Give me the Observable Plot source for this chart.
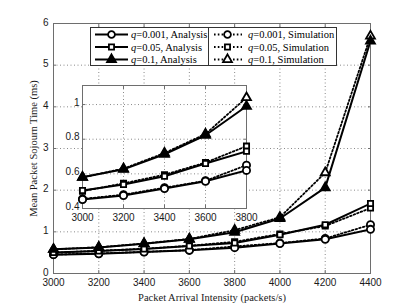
<!DOCTYPE html>
<html><head><meta charset="utf-8">
<script src="https://cdn.jsdelivr.net/npm/d3@7"></script>
<script src="https://cdn.jsdelivr.net/npm/@observablehq/plot@0.6"></script>
<style>
html,body{margin:0;padding:0;background:#fff;}
#wrap{position:relative;width:409px;height:307px;overflow:hidden;background:#fff;}
#wrap svg{position:absolute;overflow:visible;}
g[aria-label="x-axis label"] text, g[aria-label="y-axis label"] text{font-family:"Liberation Serif",serif;font-size:10.5px;}
</style></head><body><div id="wrap"></div>
<script>
// ---- data ----
const intensity = [3000, 3200, 3400, 3600, 3800, 4000, 4200, 4400];
const analysisQ001 = [0.452, 0.475, 0.515, 0.557, 0.62, 0.72, 0.82, 1.06];
const simQ001      = [0.455, 0.48, 0.52, 0.56, 0.65, 0.73, 0.84, 1.17];
const analysisQ05  = [0.504, 0.539, 0.586, 0.66, 0.73, 0.93, 1.17, 1.68];
const simQ05       = [0.50, 0.545, 0.595, 0.665, 0.76, 0.95, 1.14, 1.57];
const analysisQ1   = [0.58, 0.626, 0.713, 0.823, 0.99, 1.32, 2.06, 5.58];
const simQ1        = [0.58, 0.63, 0.72, 0.83, 1.04, 1.35, 2.42, 5.70];
const xTicks = [3000, 3200, 3400, 3600, 3800, 4000, 4200, 4400];
const yTicks = [0, 1, 2, 3, 4, 5, 6];
const insetXTicks = [3000, 3200, 3400, 3600, 3800];
const insetYTicks = [0.4, 0.6, 0.8, 1];
const seriesNames = ["q=0.001", "q=0.05", "q=0.1"];
const symbols = ["circle", "square", "triangle"];

// ---- build tidy table ----
const analysisSets = [analysisQ001, analysisQ05, analysisQ1];
const simSets = [simQ001, simQ05, simQ1];
const analysis = [], simulation = [];
seriesNames.forEach((name, i) => {
  intensity.forEach((x, j) => {
    analysis.push({x, y: analysisSets[i][j], series: name, symbol: symbols[i]});
    simulation.push({x, y: simSets[i][j], series: name, symbol: symbols[i]});
  });
});

const BLACK = "#000";
const GRID = "#8a8a8a";
const FRAME = "#6e6e6e";

function seriesMarks(filterX, rDot) {
  const A = analysis.filter(d => filterX(d.x));
  const S = simulation.filter(d => filterX(d.x));
  const marks = [];
  marks.push(Plot.line(S, {x: "x", y: "y", z: "series", stroke: BLACK, strokeWidth: 1.8, strokeDasharray: "1.6,2.2", clip: true}));
  marks.push(Plot.line(A, {x: "x", y: "y", z: "series", stroke: BLACK, strokeWidth: 2, clip: true}));
  symbols.forEach((sym) => {
    const r = sym === "triangle" ? rDot * 0.92 : (sym === "square" ? rDot * 0.82 : rDot);
    marks.push(Plot.dot(S.filter(d => d.symbol === sym), {x: "x", y: "y", symbol: sym, r, fill: "white", stroke: BLACK, strokeWidth: 1.8}));
  });
  symbols.forEach((sym) => {
    const r = sym === "triangle" ? rDot * 0.92 : (sym === "square" ? rDot * 0.82 : rDot);
    marks.push(Plot.dot(A.filter(d => d.symbol === sym), {x: "x", y: "y", symbol: sym, r, fill: sym === "triangle" ? BLACK : "white", stroke: BLACK, strokeWidth: 1.8}));
  });
  return marks;
}

function innerTicks(xt, yt) {
  const o = {tickSize: -3, tickFormat: () => "", label: null, stroke: FRAME};
  return [
    Plot.axisX(xt, {...o, anchor: "bottom"}),
    Plot.axisX(xt, {...o, anchor: "top"}),
    Plot.axisY(yt, {...o, anchor: "left"}),
    Plot.axisY(yt, {...o, anchor: "right"})
  ];
}

const wrap = document.getElementById("wrap");

// ---- main chart ----
const main = Plot.plot({
  width: 409, height: 307,
  marginLeft: 53, marginRight: 39, marginTop: 23, marginBottom: 34,
  style: {fontFamily: "Liberation Sans, Arial, sans-serif", fontSize: "10px", color: "#1a1a1a", background: "transparent"},
  x: {domain: [3000, 4400]},
  y: {domain: [0, 6]},
  marks: [
    Plot.gridX(xTicks, {stroke: GRID, strokeOpacity: 1, strokeDasharray: "1,2.5"}),
    Plot.gridY(yTicks, {stroke: GRID, strokeOpacity: 1, strokeDasharray: "1,2.5"}),
    Plot.frame({stroke: FRAME, strokeWidth: 1}),
    ...innerTicks(xTicks, yTicks),
    Plot.axisX(xTicks, {tickSize: 0, tickPadding: 5, tickFormat: d => String(d), label: "Packet Arrival Intensity (packets/s)", labelAnchor: "center", labelOffset: 27, labelArrow: "none"}),
    Plot.axisY(yTicks, {tickSize: 0, tickPadding: 5, tickFormat: d => String(d), label: "Mean Packet Sojourn Time (ms)", labelAnchor: "center", labelOffset: 24, labelArrow: "none", dy: -1}),
    ...seriesMarks(() => true, 3.6)
  ]
});
main.style.left = "0px"; main.style.top = "0px";
wrap.appendChild(main);

// ---- inset ----
const iL = 22, iT = 5, iR = 14, iB = 16;
const inset = Plot.plot({
  width: iL + 164 + iR, height: iT + 123 + iB,
  marginLeft: iL, marginRight: iR, marginTop: iT, marginBottom: iB,
  style: {fontFamily: "Liberation Sans, Arial, sans-serif", fontSize: "10px", color: "#1a1a1a", background: "transparent"},
  x: {domain: [3000, 3800]},
  y: {domain: [0.4, 1.11]},
  marks: [
    Plot.frame({fill: "white", stroke: "none"}),
    Plot.gridX(insetXTicks, {stroke: GRID, strokeOpacity: 1, strokeDasharray: "1,2.5"}),
    Plot.gridY(insetYTicks, {stroke: GRID, strokeOpacity: 1, strokeDasharray: "1,2.5"}),
    Plot.frame({stroke: FRAME, strokeWidth: 1}),
    ...innerTicks(insetXTicks, insetYTicks),
    Plot.axisX(insetXTicks, {tickSize: 0, tickPadding: 5, tickFormat: d => String(d), label: null}),
    Plot.axisY(insetYTicks, {tickSize: 0, tickPadding: 3, tickFormat: d => String(d), label: null, dy: -2}),
    ...seriesMarks(x => x <= 3800, 3.6)
  ]
});
inset.style.left = (82 - iL) + "px"; inset.style.top = (85 - iT) + "px";
wrap.appendChild(inset);

// ---- legend ----
const legW = 247, legH = 39;
const leg = d3.create("svg").attr("width", legW).attr("height", legH)
  .style("left", "90px").style("top", "27px")
  .attr("font-family", "Liberation Serif, Times New Roman, serif").attr("font-size", "10.5px");
leg.append("rect").attr("x", 0.5).attr("y", 0.5).attr("width", legW - 1).attr("height", legH - 1).attr("fill", "white").attr("stroke", "#333");
leg.append("line").attr("x1", 118.5).attr("x2", 118.5).attr("y1", 0).attr("y2", legH).attr("stroke", "#333");
const symGen = d3.symbol();
const symMap = {circle: d3.symbolCircle, square: d3.symbolSquare, triangle: d3.symbolTriangle};
seriesNames.forEach((name, i) => {
  const cy = 7.5 + i * 12.5;
  const sym = symbols[i];
  const r = sym === "triangle" ? 3.3 : (sym === "square" ? 2.9 : 3.4);
  const size = Math.PI * r * r;
  leg.append("line").attr("x1", 5).attr("x2", 38).attr("y1", cy).attr("y2", cy).attr("stroke", BLACK).attr("stroke-width", 2);
  leg.append("path").attr("d", symGen.type(symMap[sym]).size(size)()).attr("transform", `translate(21.5,${cy})`)
    .attr("fill", sym === "triangle" ? BLACK : "white").attr("stroke", BLACK).attr("stroke-width", 1.8);
  const t1 = leg.append("text").attr("x", 41).attr("y", cy).attr("dy", "0.35em");
  t1.append("tspan").attr("font-style", "italic").text("q");
  t1.append("tspan").text(name.slice(1) + ", Analysis");
  leg.append("line").attr("x1", 124).attr("x2", 152).attr("y1", cy).attr("y2", cy).attr("stroke", BLACK).attr("stroke-width", 1.8).attr("stroke-dasharray", "1.6,2.2");
  leg.append("path").attr("d", symGen.type(symMap[sym]).size(size)()).attr("transform", `translate(137.5,${cy})`)
    .attr("fill", "white").attr("stroke", BLACK).attr("stroke-width", 1.8);
  const t2 = leg.append("text").attr("x", 158).attr("y", cy).attr("dy", "0.35em");
  t2.append("tspan").attr("font-style", "italic").text("q");
  t2.append("tspan").text(name.slice(1) + ", Simulation");
});
wrap.appendChild(leg.node());
</script></body></html>
